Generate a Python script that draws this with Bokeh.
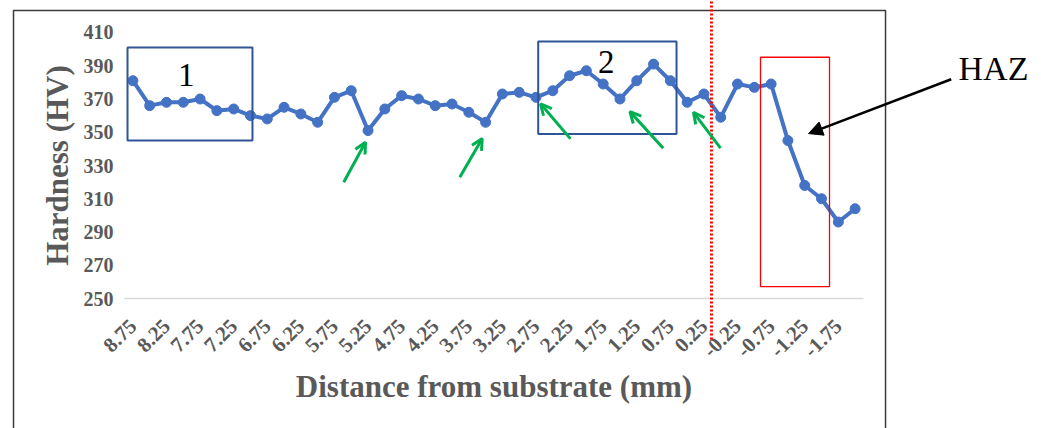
import math
from bokeh.plotting import figure
from bokeh.models import (Range1d, FixedTicker, PrintfTickFormatter, BoxAnnotation,
                          Label, Arrow, OpenHead, NormalHead, ColumnDataSource)
from bokeh.embed import file_html
from bokeh.resources import INLINE

# ---- data ----
distance = [8.75 - 0.25 * i for i in range(44)]  # 8.75 ... -2.00 mm
hardness = [381, 366, 368, 368, 370, 363, 364, 360, 358, 365, 361, 356,
            371, 375, 351, 364, 372, 370, 366, 367, 362, 356, 373, 374,
            371, 375, 384, 387, 379, 370, 381, 391, 381, 368, 373, 359,
            379, 377, 379, 345, 318, 310, 296, 304]
tick_values = distance[::2]
y_ticks = list(range(250, 411, 20))

GRAY = "#595959"
BLUE = "#4472C4"
GREEN = "#00B050"
SERIF = "Liberation Serif"

src = ColumnDataSource(dict(x=distance, y=hardness))

# frame spans the whole canvas; the axes are pinned with fixed_location
p = figure(width=1041, height=428, output_backend="svg", toolbar_location=None,
           x_range=Range1d(10.7207, -4.7745), y_range=Range1d(171.805, 429.248),
           min_border=0)
p.outline_line_color = None
p.background_fill_color = "white"
p.border_fill_color = "white"
p.xgrid.visible = False
p.ygrid.visible = False

# x axis
xa = p.xaxis[0]
xa.fixed_location = 250
xa.bounds = (-2.125, 8.875)
xa.ticker = FixedTicker(ticks=tick_values)
xa.formatter = PrintfTickFormatter(format="%.2f")
xa.major_label_orientation = math.pi / 4
xa.axis_line_color = "#D9D9D9"
xa.axis_line_width = 1.5
xa.major_tick_line_color = None
xa.minor_tick_line_color = None
xa.major_tick_out = 0
xa.major_tick_in = 0
xa.major_label_text_font = SERIF
xa.major_label_text_font_style = "bold"
xa.major_label_text_font_size = "21px"
xa.major_label_text_color = GRAY
xa.major_label_standoff = 24
xa.axis_label = "Distance from substrate (mm)"
xa.axis_label_text_font = SERIF
xa.axis_label_text_font_style = "bold"
xa.axis_label_text_font_size = "31px"
xa.axis_label_text_color = GRAY
xa.axis_label_standoff = 3

# y axis
ya = p.yaxis[0]
ya.fixed_location = 8.875
ya.bounds = (250, 410)
ya.ticker = FixedTicker(ticks=y_ticks)
ya.axis_line_color = None
ya.major_tick_line_color = None
ya.minor_tick_line_color = None
ya.major_tick_out = 0
ya.major_tick_in = 0
ya.major_label_text_font = SERIF
ya.major_label_text_font_style = "bold"
ya.major_label_text_font_size = "20px"
ya.major_label_text_color = GRAY
ya.major_label_standoff = 11
ya.axis_label = "Hardness (HV)"
ya.axis_label_text_font = SERIF
ya.axis_label_text_font_style = "bold"
ya.axis_label_text_font_size = "31px"
ya.axis_label_text_color = GRAY
ya.axis_label_standoff = 6

# data series
p.line("x", "y", source=src, line_color=BLUE, line_width=4)
p.scatter("x", "y", source=src, size=10, fill_color=BLUE, line_color=BLUE)

# outer chart border
p.add_layout(BoxAnnotation(left=10.527, right=-2.453, top=423.2, bottom=150,
                           fill_color=None, line_color="#3a3a3a", line_alpha=1,
                           line_width=1.5))

# region boxes
p.add_layout(BoxAnnotation(left=8.83, right=6.97, top=401, bottom=345,
                           fill_color=None, line_color="#2F5597", line_alpha=1,
                           line_width=2))
p.add_layout(BoxAnnotation(left=2.717, right=0.658, top=404.6, bottom=349,
                           fill_color=None, line_color="#2F5597", line_alpha=1,
                           line_width=2))
p.add_layout(BoxAnnotation(left=-0.592, right=-1.619, top=395.1, bottom=257.2,
                           fill_color=None, line_color="#FF0000", line_alpha=1,
                           line_width=1.3))

# substrate interface (dotted red)
p.add_layout(Arrow(x_start=0.138, y_start=431, x_end=0.138, y_end=224.7,
                   start=None, end=None, line_color="#FF0000", line_width=3,
                   line_dash="2 2"))

# labels
p.add_layout(Label(x=7.955, y=384.7, text="1", text_font=SERIF, text_font_size="33px",
                   text_color="black", text_align="center", text_baseline="middle"))
p.add_layout(Label(x=1.705, y=392, text="2", text_font=SERIF, text_font_size="33px",
                   text_color="black", text_align="center", text_baseline="middle"))
p.add_layout(Label(x=-4.06, y=388.3, text="HAZ", text_font=SERIF, text_font_size="34px",
                   text_color="black", text_align="center", text_baseline="middle"))

# HAZ arrow
p.add_layout(Arrow(x_start=-3.431, y_start=381.9, x_end=-1.307, y_end=349.2,
                   line_color="black", line_width=2.5,
                   end=NormalHead(size=14, fill_color="black", line_color="black")))

# green arrows
green = [(5.612, 319.9, 5.288, 344.0), (3.884, 323.0, 3.55, 346.2),
         (2.236, 346.0, 2.682, 367.1), (0.856, 340.4, 1.352, 362.4),
         (0.003, 340.4, 0.406, 362.0)]
for xs, ys, xe, ye in green:
    p.add_layout(Arrow(x_start=xs, y_start=ys, x_end=xe, y_end=ye,
                       line_color=GREEN, line_width=3,
                       end=OpenHead(size=11, line_color=GREEN, line_width=3)))

open("out.html", "w").write(file_html(p, INLINE))
